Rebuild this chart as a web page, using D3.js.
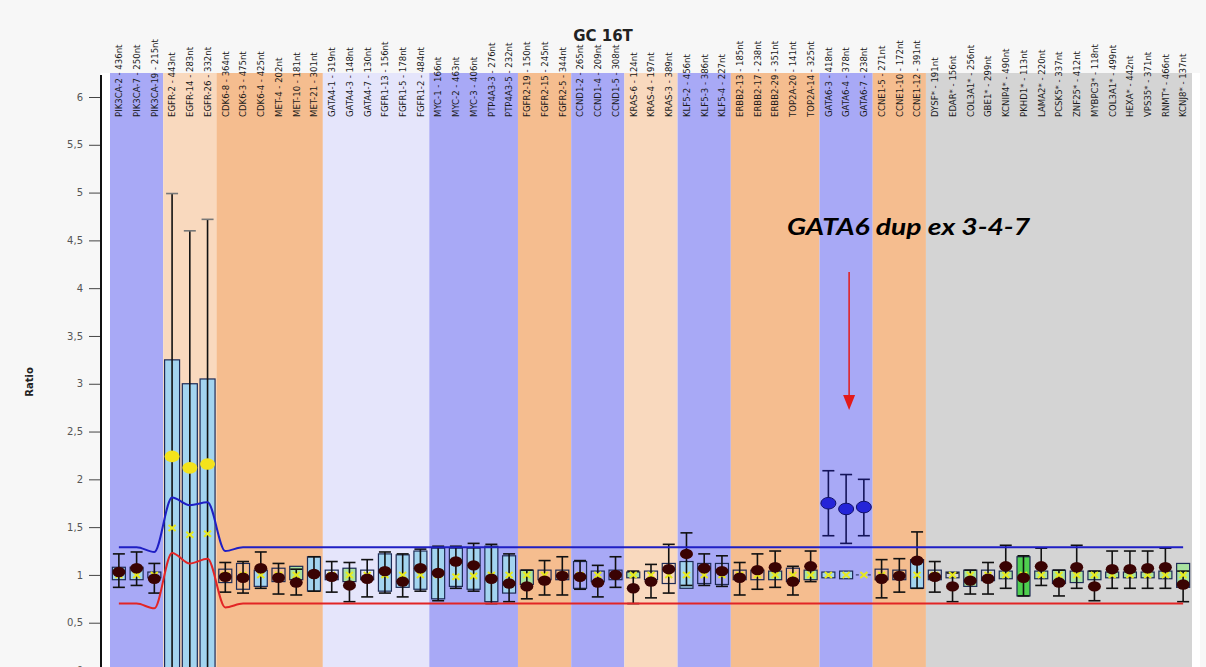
<!DOCTYPE html>
<html>
<head>
<meta charset="utf-8">
<script src="https://cdn.jsdelivr.net/npm/d3@7"></script>
<style>
  html, body { margin: 0; padding: 0; background: #f7f7f7; }
  svg { display: block; }
</style>
</head>
<body>
<div id="chart"></div>
<script>
////////////////////////////////////////////////////////////////////
////////////////////////////  Data  ////////////////////////////////
const probes = [
  "PIK3CA-2 - 436nt", "PIK3CA-7 - 250nt", "PIK3CA-19 - 215nt",
  "EGFR-2 - 443nt", "EGFR-14 - 283nt", "EGFR-26 - 332nt",
  "CDK6-8 - 364nt", "CDK6-3 - 475nt", "CDK6-4 - 425nt",
  "MET-4 - 202nt", "MET-10 - 181nt", "MET-21 - 301nt",
  "GATA4-1 - 319nt", "GATA4-3 - 148nt", "GATA4-7 - 130nt",
  "FGFR1-13 - 156nt", "FGFR1-5 - 178nt", "FGFR1-2 - 484nt",
  "MYC-1 - 166nt", "MYC-2 - 463nt", "MYC-3 - 406nt",
  "PTP4A3-3 - 276nt", "PTP4A3-5 - 232nt",
  "FGFR2-19 - 150nt", "FGFR2-15 - 245nt", "FGFR2-5 - 344nt",
  "CCND1-2 - 265nt", "CCND1-4 - 209nt", "CCND1-5 - 308nt",
  "KRAS-6 - 124nt", "KRAS-4 - 197nt", "KRAS-3 - 389nt",
  "KLF5-2 - 456nt", "KLF5-3 - 386nt", "KLF5-4 - 227nt",
  "ERBB2-13 - 185nt", "ERBB2-17 - 238nt", "ERBB2-29 - 351nt",
  "TOP2A-20 - 141nt", "TOP2A-14 - 325nt",
  "GATA6-3 - 418nt", "GATA6-4 - 378nt", "GATA6-7 - 238nt",
  "CCNE1-5 - 271nt", "CCNE1-10 - 172nt", "CCNE1-12 - 391nt",
  "DYSF* - 191nt", "EDAR* - 156nt", "COL3A1* - 256nt", "GBE1* - 299nt",
  "KCNIP4* - 490nt", "PKHD1* - 113nt", "LAMA2* - 220nt", "PCSK5* - 337nt",
  "ZNF25* - 412nt", "MYBPC3* - 118nt", "COL3A1* - 499nt", "HEXA* - 442nt",
  "VPS35* - 371nt", "RNMT* - 466nt", "KCNJ8* - 137nt"
];

// sample ratio + 95% interval
const ratio = [1.03, 1.07, 0.96, 2.24, 2.12, 2.16, 0.98, 0.97, 1.07, 0.97, 0.92, 1.01,
  0.98, 0.89, 0.96, 1.04, 0.93, 1.07, 1.02, 1.14, 1.10, 0.96, 0.91, 0.88, 0.94, 0.99,
  0.98, 0.92, 1.00, 0.86, 0.93, 1.06, 1.22, 1.07, 1.04, 0.97, 1.05, 1.08, 0.93, 1.09,
  1.75, 1.69, 1.71, 0.96, 0.99, 1.15, 0.98, 0.88, 0.94, 0.96, 1.09, 0.97, 1.09, 0.92,
  1.08, 0.88, 1.06, 1.06, 1.07, 1.08, 0.90];
const ciLow = [0.87, 0.89, 0.81, 0, 0, 0, 0.82, 0.81, 0.86, 0.80, 0.79, 0.83,
  0.82, 0.72, 0.77, 0.81, 0.77, 0.83, 0.73, 0.86, 0.83, 0.70, 0.72, 0.75, 0.79, 0.79,
  0.85, 0.77, 0.87, 0.70, 0.76, 0.81, 0.89, 0.89, 0.88, 0.79, 0.85, 0.87, 0.79, 0.93,
  1.41, 1.33, 1.41, 0.76, 0.82, 0.86, 0.82, 0.72, 0.80, 0.80, 0.86, 0.78, 0.89, 0.78,
  0.86, 0.73, 0.86, 0.86, 0.86, 0.86, 0.72];
const ciHigh = [1.22, 1.24, 1.12, 4.99, 4.60, 4.72, 1.13, 1.14, 1.24, 1.12, 1.06, 1.19,
  1.14, 1.13, 1.16, 1.24, 1.22, 1.27, 1.30, 1.30, 1.33, 1.32, 1.22, 1.05, 1.15, 1.19,
  1.15, 1.10, 1.19, 1.04, 1.11, 1.32, 1.44, 1.22, 1.20, 1.13, 1.22, 1.25, 1.09, 1.25,
  2.09, 2.05, 2.00, 1.16, 1.17, 1.45, 1.14, 1.02, 1.05, 1.13, 1.31, 1.20, 1.28, 1.05,
  1.31, 1.04, 1.25, 1.25, 1.25, 1.28, 1.04];

// reference box + median
const refLow = [0.95, 0.95, 0.97, 0, 0, 0, 0.92, 0.85, 0.88, 0.93, 0.95, 0.83,
  0.95, 0.93, 0.95, 0.83, 0.87, 0.85, 0.75, 0.88, 0.85, 0.72, 0.81, 0.90, 0.95, 0.95,
  0.86, 0.93, 0.95, 0.97, 0.95, 0.91, 0.86, 0.91, 0.90, 0.95, 0.95, 0.95, 0.93, 0.95,
  0.97, 0.96, 1.00, 0.95, 0.95, 0.86, 0.95, 0.97, 0.88, 0.94, 0.96, 0.78, 0.96, 0.91,
  0.92, 0.95, 0.97, 0.97, 0.97, 0.96, 0.87];
const refHigh = [1.08, 1.08, 1.03, 3.25, 3.00, 3.05, 1.06, 1.12, 1.05, 1.07, 1.09, 1.19,
  1.05, 1.07, 1.05, 1.22, 1.21, 1.25, 1.28, 1.28, 1.28, 1.30, 1.20, 1.05, 1.05, 1.05,
  1.14, 1.04, 1.05, 1.03, 1.04, 1.12, 1.14, 1.12, 1.12, 1.05, 1.05, 1.04, 1.07, 1.05,
  1.03, 1.04, 1.00, 1.06, 1.05, 1.16, 1.05, 1.03, 1.05, 1.05, 1.04, 1.19, 1.04, 1.05,
  1.04, 1.04, 1.03, 1.03, 1.03, 1.04, 1.12];
const refMedian = [1.0, 1.0, 1.0, 1.49, 1.42, 1.43, 1.0, 1.0, 1.0, 1.0, 1.0, 1.0,
  1.0, 1.0, 1.0, 1.0, 1.0, 1.0, 1.0, 0.98, 0.99, 1.0, 1.0, 1.0, 1.0, 1.0,
  1.0, 1.0, 1.0, 1.0, 1.0, 1.0, 1.0, 1.0, 1.0, 1.0, 1.0, 1.0, 1.0, 1.0,
  1.0, 1.0, 1.0, 1.0, 1.0, 1.0, 1.0, 1.0, 1.0, 1.0, 1.0, 1.0, 1.0, 1.0,
  1.0, 1.0, 1.0, 1.0, 1.0, 1.0, 1.0];
// b = blue box, g = green box, G = strong green, n = outline, d = dashed
const boxKind = "bbnbbbnnbngbngnbbbbbbbbgnnnnngnnbnnnngngbbdnnbnngngGgggggggggg".split("");
// n = normal, y = yellow, b = gain
const dotKind = "nnnyyynnnnnnnnnnnnnnnnnnnnnnnnnnnnnnnnnnbbbnnnnnnnnnnnnnnnnnn".split("");

// upper / lower limits
const upperLimit = [1.29, 1.29, 1.24, 1.81, 1.73, 1.76, 1.25, 1.29, 1.29, 1.29, 1.29, 1.29,
  1.29, 1.29, 1.29, 1.29, 1.29, 1.29, 1.29, 1.29, 1.29, 1.29, 1.29, 1.29, 1.29, 1.29,
  1.29, 1.29, 1.29, 1.29, 1.29, 1.29, 1.29, 1.29, 1.29, 1.29, 1.29, 1.29, 1.29, 1.29,
  1.29, 1.29, 1.29, 1.29, 1.29, 1.29, 1.29, 1.29, 1.29, 1.29, 1.29, 1.29, 1.29, 1.29,
  1.29, 1.29, 1.29, 1.29, 1.29, 1.29, 1.29];
const lowerLimit = [0.70, 0.70, 0.65, 1.23, 1.12, 1.17, 0.66, 0.70, 0.70, 0.70, 0.70, 0.70,
  0.70, 0.70, 0.70, 0.70, 0.70, 0.70, 0.70, 0.70, 0.70, 0.70, 0.70, 0.70, 0.70, 0.70,
  0.70, 0.70, 0.70, 0.70, 0.70, 0.70, 0.70, 0.70, 0.70, 0.70, 0.70, 0.70, 0.70, 0.70,
  0.70, 0.70, 0.70, 0.70, 0.70, 0.70, 0.70, 0.70, 0.70, 0.70, 0.70, 0.70, 0.70, 0.70,
  0.70, 0.70, 0.70, 0.70, 0.70, 0.70, 0.70];

// background groups
const groupSizes = [3, 3, 6, 6, 5, 3, 3, 3, 3, 5, 3, 3, 15];
const groupKinds = ["blue", "peach", "orange", "lavender", "blue", "orange", "blue",
  "peach", "blue", "orange", "blue", "orange", "grey"];

const yTicks = [0, 0.5, 1, 1.5, 2, 2.5, 3, 3.5, 4, 4.5, 5, 5.5, 6];
const title = "GC 16T";
const yTitle = "Ratio";
const note = "GATA6 dup ex 3-4-7";
const noteProbe = 41;

////////////////////////////////////////////////////////////////////
////////////////////////////  Init  ///////////////////////////////
const width = 1206, height = 667;
const plot = { top: 73, left: 101, right: 1200, bottom: 667 };

const bandColor = {
  blue: "#a8a9f6", peach: "#f9d9be", orange: "#f5bd8f",
  lavender: "#e5e5fb", grey: "#d4d4d4"
};
const boxFill = { b: "#a3d4ef", g: "#a9e3a0", G: "#4fcf4f", n: "none", d: "none" };
const dotFill = { n: "#3a0303", y: "#f4e31c", b: "#2424d8" };

const svg = d3.select("#chart").append("svg")
  .attr("width", width).attr("height", height);

const xScale = d3.scaleBand()
  .domain(probes.map((d, i) => i))
  .range([110, 1192]);
const yScale = d3.scaleLinear().domain([0, 6]).range([670.5, 97]);
const cx = (i) => xScale(i) + xScale.bandwidth() / 2;

const commaLocale = d3.formatLocale({
  decimal: ",", thousands: ".", grouping: [3], currency: ["", ""]
});

// white plot background
svg.append("rect")
  .attr("x", plot.left).attr("y", plot.top)
  .attr("width", plot.right - plot.left).attr("height", plot.bottom - plot.top)
  .attr("fill", "#ffffff");

// bands
let start = 0;
const bands = groupSizes.map((n, k) => {
  const b = { start, n, kind: groupKinds[k] };
  start += n;
  return b;
});
svg.selectAll(".band")
  .data(bands)
  .enter()
  .append("rect")
  .attr("class", "band")
  .attr("x", (d) => xScale(d.start))
  .attr("y", plot.top)
  .attr("width", (d) => xScale.step() * d.n)
  .attr("height", plot.bottom - plot.top)
  .attr("fill", (d) => bandColor[d.kind]);

// probe labels
svg.selectAll(".probe-label")
  .data(probes)
  .enter()
  .append("text")
  .attr("class", "probe-label")
  .attr("transform", (d, i) => `translate(${cx(i)},117) rotate(-90)`)
  .attr("dy", "0.35em")
  .attr("font-family", "'Liberation Sans Narrow', 'DejaVu Sans Condensed', sans-serif")
  .attr("font-size", 9.5)
  .attr("fill", "#1a1a1a")
  .text((d) => d);

// title
svg.append("text")
  .attr("x", 603).attr("y", 41)
  .attr("text-anchor", "middle")
  .attr("font-family", "'DejaVu Sans', sans-serif")
  .attr("font-weight", "bold")
  .attr("font-size", 15)
  .attr("fill", "#222")
  .text(title);

// y axis
const yAxis = d3.axisLeft(yScale)
  .tickValues(yTicks)
  .tickFormat(commaLocale.format(""))
  .tickSize(11)
  .tickPadding(6)
  .tickSizeOuter(0);

const gy = svg.append("g")
  .attr("transform", `translate(${plot.left - 1},0)`)
  .call(yAxis);
gy.select(".domain").remove();
gy.selectAll(".tick line").attr("stroke", "#444");
gy.selectAll(".tick text")
  .attr("fill", "#555")
  .attr("font-family", "'DejaVu Sans', sans-serif")
  .attr("font-size", 10);

svg.append("line")
  .attr("x1", plot.left).attr("x2", plot.left)
  .attr("y1", 75).attr("y2", plot.bottom)
  .attr("stroke", "#111").attr("stroke-width", 2);

svg.append("text")
  .attr("transform", "translate(33,382) rotate(-90)")
  .attr("text-anchor", "middle")
  .attr("font-family", "'DejaVu Sans', sans-serif")
  .attr("font-weight", "bold")
  .attr("font-size", 10)
  .attr("fill", "#222")
  .text(yTitle);

////////////////////////////////////////////////////////////////////
////////////////////////////  Marks  ///////////////////////////////
const idx = probes.map((d, i) => i);

// reference boxes
const boxW = (i) => (i >= 3 && i <= 5 ? 15 : 13);
svg.selectAll(".ref-box")
  .data(idx.filter((i) => boxKind[i] !== "d"))
  .enter()
  .append("rect")
  .attr("class", "ref-box")
  .attr("x", (i) => cx(i) - boxW(i) / 2)
  .attr("y", (i) => yScale(refHigh[i]))
  .attr("width", (i) => boxW(i))
  .attr("height", (i) => yScale(refLow[i]) - yScale(refHigh[i]))
  .attr("fill", (i) => boxFill[boxKind[i]])
  .attr("stroke", "#1d2a55")
  .attr("stroke-width", 1.2);

svg.selectAll(".ref-dash")
  .data(idx.filter((i) => boxKind[i] === "d"))
  .enter()
  .append("line")
  .attr("x1", (i) => cx(i) - 8).attr("x2", (i) => cx(i) + 8)
  .attr("y1", (i) => yScale(refMedian[i])).attr("y2", (i) => yScale(refMedian[i]))
  .attr("stroke", "#1d2a55").attr("stroke-dasharray", "3,3");

// interval whiskers
const whiskerColor = (i) => (dotKind[i] === "b" ? "#14145a" : "#111");
const capColor = (i) => (dotKind[i] === "y" ? "#777" : whiskerColor(i));
svg.selectAll(".ci")
  .data(idx)
  .enter()
  .append("line")
  .attr("x1", cx).attr("x2", cx)
  .attr("y1", (i) => yScale(ciLow[i]))
  .attr("y2", (i) => yScale(ciHigh[i]))
  .attr("stroke", whiskerColor)
  .attr("stroke-width", 1.6);

["lo", "hi"].forEach((end) => {
  svg.selectAll(".cap-" + end)
    .data(idx.filter((i) => (end === "lo" ? ciLow[i] > 0 : true)))
    .enter()
    .append("line")
    .attr("x1", (i) => cx(i) - 6).attr("x2", (i) => cx(i) + 6)
    .attr("y1", (i) => yScale(end === "lo" ? ciLow[i] : ciHigh[i]))
    .attr("y2", (i) => yScale(end === "lo" ? ciLow[i] : ciHigh[i]))
    .attr("stroke", capColor)
    .attr("stroke-width", 1.6);
});

// limit lines
const limitLine = d3.line()
  .x((d, i) => cx(i))
  .y((d) => yScale(d))
  .curve(d3.curveMonotoneX);

svg.append("path")
  .datum(upperLimit)
  .attr("fill", "none")
  .attr("stroke", "#1f1fc4")
  .attr("stroke-width", 2)
  .attr("d", limitLine);

svg.append("path")
  .datum(lowerLimit)
  .attr("fill", "none")
  .attr("stroke", "#e22525")
  .attr("stroke-width", 2)
  .attr("d", limitLine);

// median markers
svg.selectAll(".median")
  .data(idx)
  .enter()
  .append("path")
  .attr("class", "median")
  .attr("transform", (i) => `translate(${cx(i)},${yScale(refMedian[i])})`)
  .attr("d", "M-3.5,-3L3.5,3M-3.5,3L3.5,-3")
  .attr("stroke", "#e8ea1c")
  .attr("stroke-width", 2);

// sample dots
svg.selectAll(".dot")
  .data(idx)
  .enter()
  .append("ellipse")
  .attr("class", "dot")
  .attr("cx", cx)
  .attr("cy", (i) => yScale(ratio[i]))
  .attr("rx", (i) => (dotKind[i] === "n" ? 6.5 : 7.5))
  .attr("ry", (i) => (dotKind[i] === "n" ? 5.2 : 5.8))
  .attr("fill", (i) => dotFill[dotKind[i]])
  .attr("stroke", (i) => (dotKind[i] === "b" ? "#10106a" : "none"));

////////////////////////////////////////////////////////////////////
////////////////////////////  Note  ////////////////////////////////
svg.append("text")
  .attr("x", 787).attr("y", 235)
  .attr("font-family", "Lato, 'Open Sans', sans-serif")
  .attr("font-weight", "bold")
  .attr("font-style", "italic")
  .attr("font-size", 22)
  .attr("textLength", 243)
  .attr("lengthAdjust", "spacingAndGlyphs")
  .attr("fill", "#000")
  .text(note);

const ax = cx(noteProbe) + 3;
svg.append("line")
  .attr("x1", ax).attr("x2", ax)
  .attr("y1", 272).attr("y2", 398)
  .attr("stroke", "#e31a1a").attr("stroke-width", 1.5);
svg.append("path")
  .attr("d", `M${ax - 6},395L${ax + 6},395L${ax},410Z`)
  .attr("fill", "#e31a1a");
</script>
</body>
</html>
